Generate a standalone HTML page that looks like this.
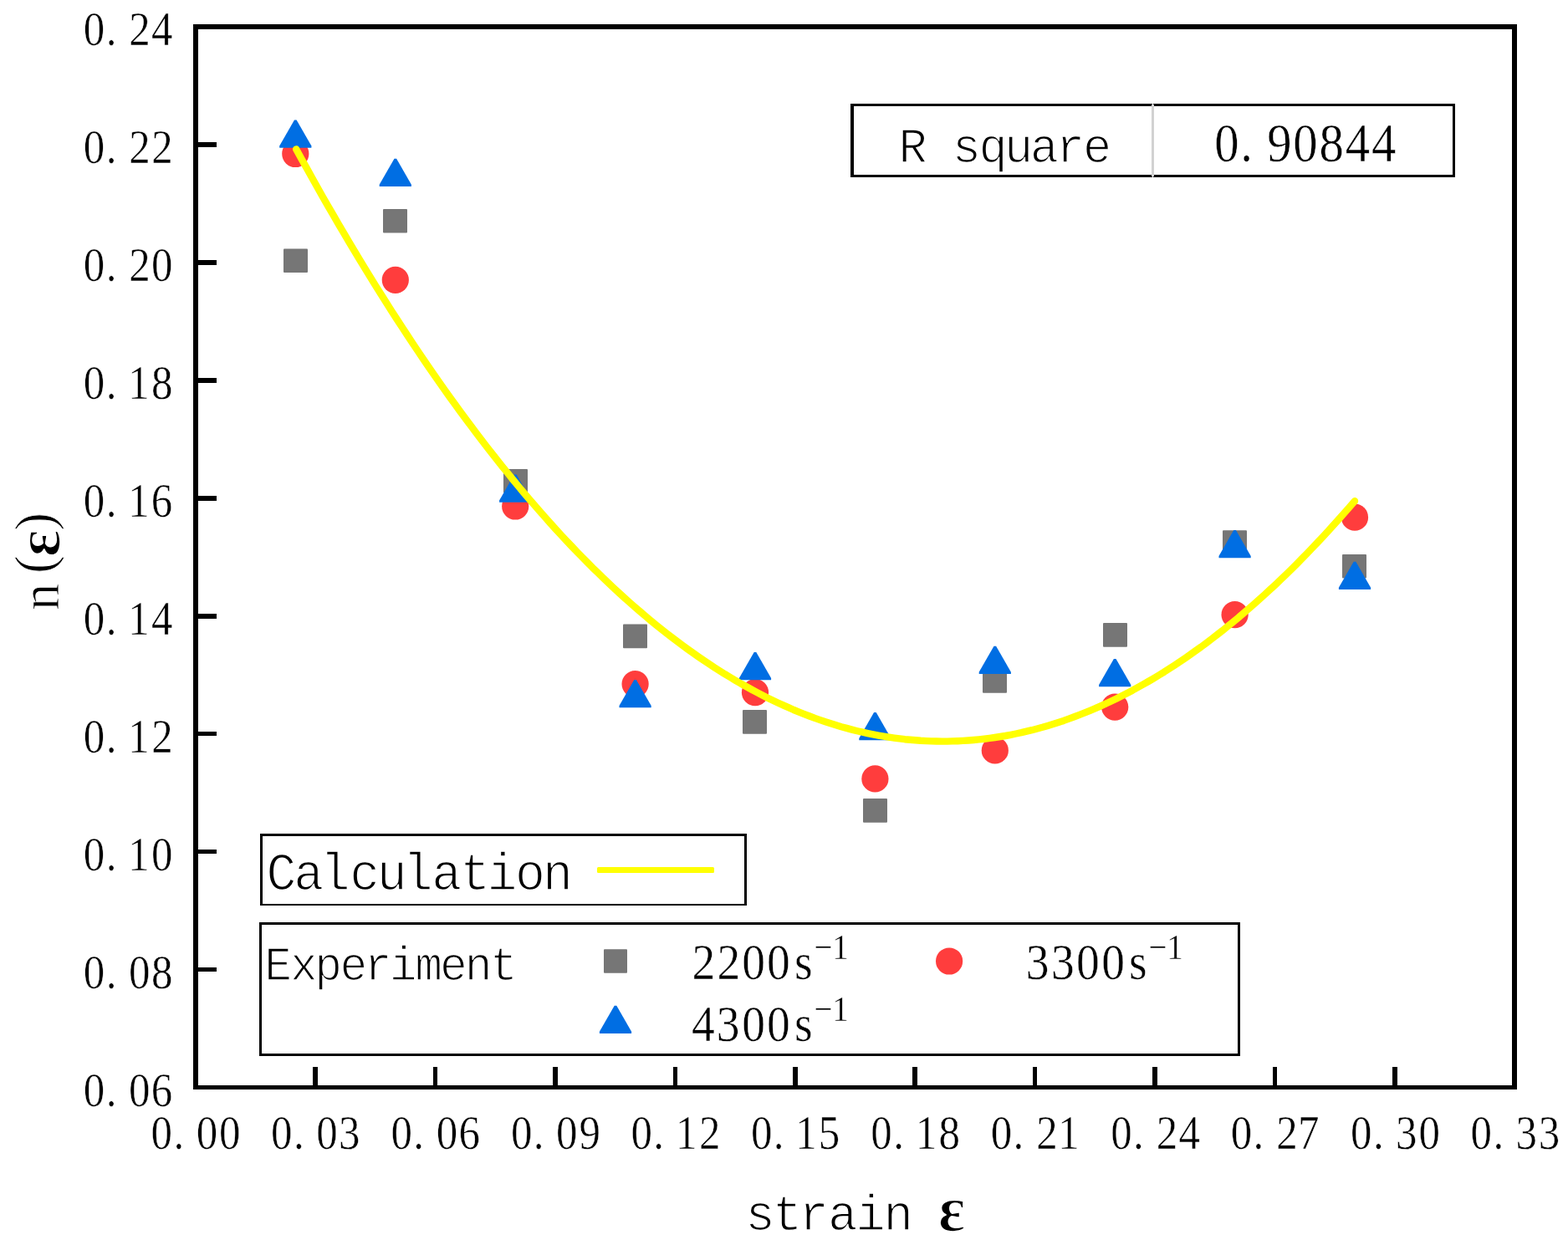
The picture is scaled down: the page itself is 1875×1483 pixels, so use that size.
<!DOCTYPE html>
<html lang="en"><head><meta charset="utf-8"><title>n(ε) versus strain ε</title>
<style>html,body{margin:0;padding:0;background:#fff}svg{display:block}text{font-family:'Liberation Serif','Noto Serif CJK SC',serif;fill:#000;white-space:pre}.m{font-family:'Liberation Mono','Liberation Serif',monospace}.e{font-family:'Liberation Serif',serif}</style>
</head><body>
<svg width="1875" height="1483" viewBox="0 0 1875 1483">
<rect width="1875" height="1483" fill="#fff"/>
<g id="series-2200">
<rect x="339.0" y="297.5" width="29" height="28.6" rx="1" fill="#767676"/>
<rect x="458.0" y="250.0" width="29" height="28.6" rx="1" fill="#767676"/>
<rect x="602.0" y="561.0" width="29" height="28.6" rx="1" fill="#767676"/>
<rect x="745.0" y="746.6" width="29" height="28.6" rx="1" fill="#767676"/>
<rect x="888.0" y="849.1" width="29" height="28.6" rx="1" fill="#767676"/>
<rect x="1032.0" y="955.1" width="29" height="28.6" rx="1" fill="#767676"/>
<rect x="1175.0" y="800.2" width="29" height="28.6" rx="1" fill="#767676"/>
<rect x="1319.0" y="745.1" width="29" height="28.6" rx="1" fill="#767676"/>
<rect x="1462.0" y="634.3" width="29" height="28.6" rx="1" fill="#767676"/>
<rect x="1605.0" y="663.0" width="29" height="28.6" rx="1" fill="#767676"/>
</g><g id="series-3300">
<circle cx="353.3" cy="184.0" r="16.1" fill="#ff3d3d"/>
<circle cx="472.8" cy="334.8" r="16.1" fill="#ff3d3d"/>
<circle cx="616.2" cy="605.5" r="16.1" fill="#ff3d3d"/>
<circle cx="759.6" cy="818.1" r="16.1" fill="#ff3d3d"/>
<circle cx="903.0" cy="828.2" r="16.1" fill="#ff3d3d"/>
<circle cx="1046.4" cy="931.4" r="16.1" fill="#ff3d3d"/>
<circle cx="1189.8" cy="897.4" r="16.1" fill="#ff3d3d"/>
<circle cx="1333.2" cy="845.6" r="16.1" fill="#ff3d3d"/>
<circle cx="1476.6" cy="735.2" r="16.1" fill="#ff3d3d"/>
<circle cx="1620.0" cy="618.7" r="16.1" fill="#ff3d3d"/>
</g><g id="series-4300">
<path d="M352.0 143.5h2.6l17.8 31v2.3h-38.2v-2.3z" fill="#006ee3"/>
<path d="M471.5 189.8h2.6l17.8 31v2.3h-38.2v-2.3z" fill="#006ee3"/>
<path d="M614.9 567.5h2.6l17.8 31v2.3h-38.2v-2.3z" fill="#006ee3"/>
<path d="M758.3 813.0h2.6l17.8 31v2.3h-38.2v-2.3z" fill="#006ee3"/>
<path d="M901.7 779.9h2.6l17.8 31v2.3h-38.2v-2.3z" fill="#006ee3"/>
<path d="M1045.1 851.9h2.6l17.8 31v2.3h-38.2v-2.3z" fill="#006ee3"/>
<path d="M1188.5 772.8h2.6l17.8 31v2.3h-38.2v-2.3z" fill="#006ee3"/>
<path d="M1331.9 788.0h2.6l17.8 31v2.3h-38.2v-2.3z" fill="#006ee3"/>
<path d="M1475.3 633.9h2.6l17.8 31v2.3h-38.2v-2.3z" fill="#006ee3"/>
<path d="M1618.7 671.7h2.6l17.8 31v2.3h-38.2v-2.3z" fill="#006ee3"/>
</g>
<polyline points="354.2,178.4 360.5,189.9 366.9,201.4 373.2,212.8 379.5,224.0 385.8,235.2 392.2,246.3 398.5,257.2 404.8,268.1 411.2,278.9 417.5,289.6 423.8,300.2 430.1,310.7 436.5,321.1 442.8,331.4 449.1,341.6 455.5,351.8 461.8,361.8 468.1,371.7 474.5,381.6 480.8,391.3 487.1,400.9 493.4,410.5 499.8,420.0 506.1,429.3 512.4,438.6 518.8,447.8 525.1,456.8 531.4,465.8 537.7,474.7 544.1,483.5 550.4,492.2 556.7,500.8 563.1,509.3 569.4,517.7 575.7,526.1 582.0,534.3 588.4,542.4 594.7,550.4 601.0,558.4 607.4,566.2 613.7,574.0 620.0,581.6 626.3,589.2 632.7,596.7 639.0,604.0 645.3,611.3 651.7,618.5 658.0,625.6 664.3,632.6 670.6,639.5 677.0,646.3 683.3,653.0 689.6,659.6 696.0,666.1 702.3,672.5 708.6,678.9 715.0,685.1 721.3,691.2 727.6,697.3 733.9,703.2 740.3,709.1 746.6,714.8 752.9,720.5 759.3,726.1 765.6,731.5 771.9,736.9 778.2,742.2 784.6,747.4 790.9,752.5 797.2,757.5 803.6,762.4 809.9,767.2 816.2,771.9 822.5,776.5 828.9,781.0 835.2,785.5 841.5,789.8 847.9,794.0 854.2,798.2 860.5,802.2 866.8,806.2 873.2,810.0 879.5,813.8 885.8,817.5 892.2,821.0 898.5,824.5 904.8,827.9 911.2,831.2 917.5,834.4 923.8,837.5 930.1,840.5 936.5,843.4 942.8,846.2 949.1,849.0 955.5,851.6 961.8,854.1 968.1,856.5 974.4,858.9 980.8,861.1 987.1,863.3 993.4,865.3 999.8,867.3 1006.1,869.2 1012.4,870.9 1018.7,872.6 1025.1,874.2 1031.4,875.7 1037.7,877.1 1044.1,878.4 1050.4,879.6 1056.7,880.7 1063.0,881.7 1069.4,882.6 1075.7,883.4 1082.0,884.2 1088.4,884.8 1094.7,885.3 1101.0,885.8 1107.4,886.1 1113.7,886.4 1120.0,886.5 1126.3,886.6 1132.7,886.6 1139.0,886.4 1145.3,886.2 1151.7,885.9 1158.0,885.5 1164.3,885.0 1170.6,884.4 1177.0,883.7 1183.3,882.9 1189.6,882.0 1196.0,881.0 1202.3,880.0 1208.6,878.8 1214.9,877.5 1221.3,876.2 1227.6,874.7 1233.9,873.2 1240.3,871.5 1246.6,869.8 1252.9,867.9 1259.2,866.0 1265.6,864.0 1271.9,861.9 1278.2,859.6 1284.6,857.3 1290.9,854.9 1297.2,852.4 1303.5,849.8 1309.9,847.2 1316.2,844.4 1322.5,841.5 1328.9,838.5 1335.2,835.5 1341.5,832.3 1347.9,829.0 1354.2,825.7 1360.5,822.2 1366.8,818.7 1373.2,815.0 1379.5,811.3 1385.8,807.5 1392.2,803.6 1398.5,799.5 1404.8,795.4 1411.1,791.2 1417.5,786.9 1423.8,782.5 1430.1,778.0 1436.5,773.5 1442.8,768.8 1449.1,764.0 1455.4,759.1 1461.8,754.2 1468.1,749.1 1474.4,743.9 1480.8,738.7 1487.1,733.3 1493.4,727.9 1499.7,722.4 1506.1,716.7 1512.4,711.0 1518.7,705.2 1525.1,699.3 1531.4,693.3 1537.7,687.2 1544.1,681.0 1550.4,674.7 1556.7,668.3 1563.0,661.8 1569.4,655.2 1575.7,648.5 1582.0,641.8 1588.4,634.9 1594.7,627.9 1601.0,620.9 1607.3,613.7 1613.7,606.5 1620.0,599.2" fill="none" stroke="#ffff00" stroke-width="8.4" stroke-linecap="round" stroke-linejoin="round"/>
<g fill="#000">
<rect x="231" y="29" width="6" height="1274"/>
<rect x="1808" y="29" width="6" height="1274"/>
<rect x="231" y="29" width="1583" height="6"/>
<rect x="231" y="1298" width="1583" height="5"/>
<rect x="236" y="170" width="23" height="6"/>
<rect x="236" y="311" width="23" height="6"/>
<rect x="236" y="452" width="23" height="6"/>
<rect x="236" y="593" width="23" height="6"/>
<rect x="236" y="734" width="23" height="6"/>
<rect x="236" y="875" width="23" height="5"/>
<rect x="236" y="1016" width="23" height="5"/>
<rect x="236" y="1157" width="23" height="5"/>
<rect x="374" y="1276" width="6" height="24"/>
<rect x="518" y="1276" width="5" height="24"/>
<rect x="661" y="1276" width="6" height="24"/>
<rect x="805" y="1276" width="5" height="24"/>
<rect x="948" y="1276" width="6" height="24"/>
<rect x="1091" y="1276" width="6" height="24"/>
<rect x="1235" y="1276" width="5" height="24"/>
<rect x="1378" y="1276" width="6" height="24"/>
<rect x="1522" y="1276" width="5" height="24"/>
<rect x="1665" y="1276" width="6" height="24"/>
</g>
<g id="y-ticks">
<text x="109.7 139.2 169.6 198.9" y="53.9" font-size="56.0" transform="matrix(0.91 0 0 1 0 0)" stroke="#fff" stroke-width="0.5">0.24</text>
<text x="109.7 139.2 169.6 199.3" y="194.9" font-size="56.0" transform="matrix(0.91 0 0 1 0 0)" stroke="#fff" stroke-width="0.5">0.22</text>
<text x="109.7 139.2 169.6 199.0" y="335.9" font-size="56.0" transform="matrix(0.91 0 0 1 0 0)" stroke="#fff" stroke-width="0.5">0.20</text>
<text x="109.7 139.2 168.5 199.0" y="476.9" font-size="56.0" transform="matrix(0.91 0 0 1 0 0)" stroke="#fff" stroke-width="0.5">0.18</text>
<text x="109.7 139.2 168.5 198.7" y="617.9" font-size="56.0" transform="matrix(0.91 0 0 1 0 0)" stroke="#fff" stroke-width="0.5">0.16</text>
<text x="109.7 139.2 168.5 198.9" y="758.9" font-size="56.0" transform="matrix(0.91 0 0 1 0 0)" stroke="#fff" stroke-width="0.5">0.14</text>
<text x="109.7 139.2 168.5 199.3" y="899.9" font-size="56.0" transform="matrix(0.91 0 0 1 0 0)" stroke="#fff" stroke-width="0.5">0.12</text>
<text x="109.7 139.2 168.5 199.0" y="1040.9" font-size="56.0" transform="matrix(0.91 0 0 1 0 0)" stroke="#fff" stroke-width="0.5">0.10</text>
<text x="109.7 139.2 169.2 199.0" y="1181.9" font-size="56.0" transform="matrix(0.91 0 0 1 0 0)" stroke="#fff" stroke-width="0.5">0.08</text>
<text x="109.7 139.2 169.2 198.7" y="1322.9" font-size="56.0" transform="matrix(0.91 0 0 1 0 0)" stroke="#fff" stroke-width="0.5">0.06</text>
</g><g id="x-ticks">
<text x="198.5 228.0 258.0 287.8" y="1373.8" font-size="56.0" transform="matrix(0.91 0 0 1 0 0)" stroke="#fff" stroke-width="0.5">0.00</text>
<text x="356.1 385.6 415.7 445.2" y="1373.8" font-size="56.0" transform="matrix(0.91 0 0 1 0 0)" stroke="#fff" stroke-width="0.5">0.03</text>
<text x="513.7 543.2 573.3 602.7" y="1373.8" font-size="56.0" transform="matrix(0.91 0 0 1 0 0)" stroke="#fff" stroke-width="0.5">0.06</text>
<text x="671.4 700.9 730.9 761.0" y="1373.8" font-size="56.0" transform="matrix(0.91 0 0 1 0 0)" stroke="#fff" stroke-width="0.5">0.09</text>
<text x="829.0 858.5 887.8 918.7" y="1373.8" font-size="56.0" transform="matrix(0.91 0 0 1 0 0)" stroke="#fff" stroke-width="0.5">0.12</text>
<text x="986.7 1016.1 1045.4 1075.5" y="1373.8" font-size="56.0" transform="matrix(0.91 0 0 1 0 0)" stroke="#fff" stroke-width="0.5">0.15</text>
<text x="1144.3 1173.8 1203.1 1233.6" y="1373.8" font-size="56.0" transform="matrix(0.91 0 0 1 0 0)" stroke="#fff" stroke-width="0.5">0.18</text>
<text x="1301.9 1331.4 1361.8 1390.5" y="1373.8" font-size="56.0" transform="matrix(0.91 0 0 1 0 0)" stroke="#fff" stroke-width="0.5">0.21</text>
<text x="1459.6 1489.1 1519.4 1548.8" y="1373.8" font-size="56.0" transform="matrix(0.91 0 0 1 0 0)" stroke="#fff" stroke-width="0.5">0.24</text>
<text x="1617.2 1646.7 1677.1 1705.5" y="1373.8" font-size="56.0" transform="matrix(0.91 0 0 1 0 0)" stroke="#fff" stroke-width="0.5">0.27</text>
<text x="1774.8 1804.3 1834.2 1864.2" y="1373.8" font-size="56.0" transform="matrix(0.91 0 0 1 0 0)" stroke="#fff" stroke-width="0.5">0.30</text>
<text x="1932.5 1962.0 1991.8 2021.6" y="1373.8" font-size="56.0" transform="matrix(0.91 0 0 1 0 0)" stroke="#fff" stroke-width="0.5">0.33</text>
</g>
<g transform="translate(0 1470.8)">
<text class="m" x="918.7 952.3 985.0 1020.6 1054.8 1089.2 1122.9 1156.8" y="0.0 0.0 0.0 0.0 0.0 0.0 0.0 1.6" font-size="61.0" transform="matrix(0.97 0 0 1 0 0)" stroke="#fff" stroke-width="1.5">strain <tspan class="e" font-size="78.0" font-weight="bold" stroke-width="1.6">ε</tspan></text>
</g>
<g transform="translate(70.3 730) rotate(-90)">
<text x="0.0 43.9 64.0 95.6" y="0.0 -7.2 0.9 -7.2" font-size="64.5" stroke="#fff" stroke-width="0.9">n(<tspan class="e" font-size="76.0" font-weight="bold" stroke-width="1.6">ε</tspan>)</text>
</g>
<rect x="1017" y="124" width="723" height="88" fill="#fff"/>
<path fill="#000" fill-rule="evenodd" d="M1017 124H1740V212H1017ZM1021 127H1737V209H1021Z"/>
<rect x="1377" y="125" width="3" height="86" fill="#d2d2d2"/>
<rect x="1378" y="124" width="1" height="1" fill="#fff"/><rect x="1378" y="211" width="1" height="1" fill="#fff"/>
<text class="m" x="1131.1 1165.6 1198.6 1232.1 1264.3 1296.6 1329.5 1363.3" y="193.8" font-size="60.0" transform="matrix(0.95 0 0 1 0 0)" stroke="#fff" stroke-width="1.5">R square</text>
<text x="1595.9 1629.9 1665.0 1699.1 1733.5 1767.8 1802.2" y="193.1" font-size="64.5" transform="matrix(0.91 0 0 1 0 0)" stroke="#fff" stroke-width="0.5">0.90844</text>
<rect x="311" y="997" width="582" height="86" fill="#fff"/>
<path fill="#000" fill-rule="evenodd" d="M311 997H893V1083H311ZM314 1000H890V1081H314Z"/>
<text class="m" x="335.4 369.7 402.9 440.3 474.6 507.1 543.3 579.3 613.1 648.5 683.2" y="1064.3" font-size="63.0" transform="matrix(0.95 0 0 1 0 0)" stroke="#fff" stroke-width="1.5">Calculation</text>
<rect x="714" y="1037" width="140" height="7" rx="1.5" fill="#ffff00"/>
<rect x="310" y="1103" width="1173" height="160" fill="#fff"/>
<path fill="#000" fill-rule="evenodd" d="M310 1103H1483V1263H310ZM313 1106H1480V1260H313Z"/>
<text class="m" x="332.9 365.2 396.0 428.0 458.6 490.3 522.3 553.7 585.1 616.8" y="1172.0" font-size="57.5" transform="matrix(0.95 0 0 1 0 0)" stroke="#fff" stroke-width="1.5">Experiment</text>
<rect x="722" y="1135.2" width="28" height="28.6" rx="1" fill="#767676"/>
<text x="909.3 942.2 974.9 1007.8 1044.0 1069.7 1093.6" y="1170.8 1170.8 1170.8 1170.8 1170.8 1147.2 1147.2" font-size="61.0" transform="matrix(0.91 0 0 1 0 0)" stroke="#fff" stroke-width="0.5">2200s<tspan font-size="43.0">−1</tspan></text>
<circle cx="1135.1" cy="1149.5" r="16.1" fill="#ff3d3d"/>
<text x="1348.2 1381.2 1414.4 1447.4 1483.6 1509.3 1533.2" y="1170.8 1170.8 1170.8 1170.8 1170.8 1147.2 1147.2" font-size="61.0" transform="matrix(0.91 0 0 1 0 0)" stroke="#fff" stroke-width="0.5">3300s<tspan font-size="43.0">−1</tspan></text>
<path d="M734.7 1202.7h2.6l17.8 31v2.3h-38.2v-2.3z" fill="#006ee3"/>
<text x="908.8 941.6 974.9 1007.8 1044.0 1069.7 1093.6" y="1245.0 1245.0 1245.0 1245.0 1245.0 1221.4 1221.4" font-size="61.0" transform="matrix(0.91 0 0 1 0 0)" stroke="#fff" stroke-width="0.5">4300s<tspan font-size="43.0">−1</tspan></text>
</svg>
</body></html>
